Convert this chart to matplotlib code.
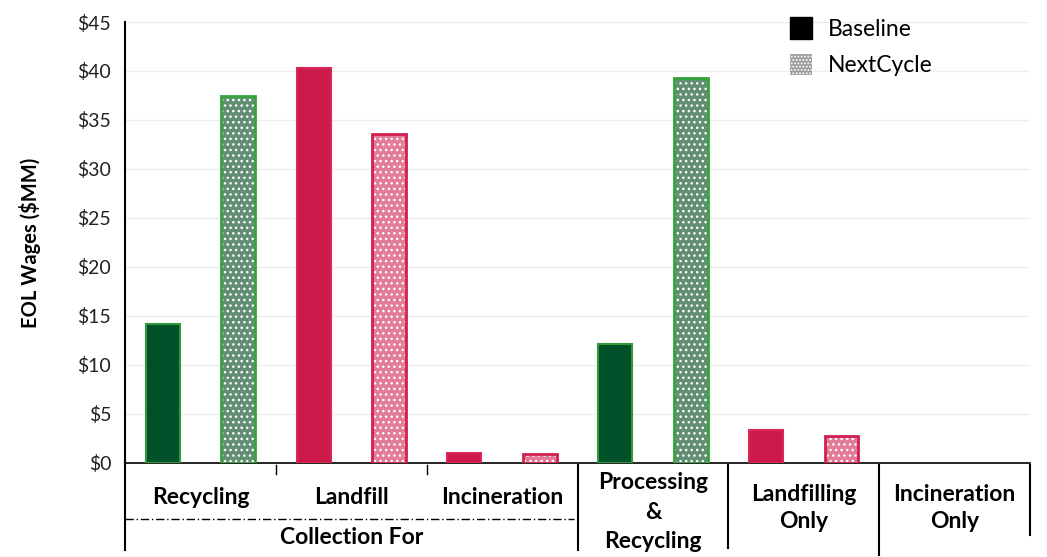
import numpy as np
import matplotlib
matplotlib.use('Agg')
import matplotlib.pyplot as plt
from matplotlib.patches import Patch

plt.rcParams['font.family'] = ['Lato', 'DejaVu Sans']
plt.rcParams['hatch.linewidth'] = 1.0

# EOL wages per pathway, $MM
groups = ['Recycling', 'Landfill', 'Incineration',
          'Processing\n&\nRecycling', 'Landfilling\nOnly', 'Incineration\nOnly']
baseline = [14.2, 40.3, 1.0, 12.1, 3.4, 0.0]
nextcycle = [37.4, 33.6, 0.9, 39.3, 2.8, 0.0]
recycling_path = [True, False, False, True, False, False]
y_ticks = [0, 5, 10, 15, 20, 25, 30, 35, 40, 45]

# colours: dark/light green for recycling, crimson/pink for disposal
base_fill = {True: '#00502a', False: '#cc1a4b'}
base_edge = {True: '#2e9a3a', False: '#d8285a'}
next_fill = {True: '#628f74', False: '#e27c98'}
next_edge = {True: '#36a23c', False: '#cf2050'}

fig = plt.figure(figsize=(10.47, 5.57), dpi=100)
ax = fig.add_axes([0.1194, 0.1688, 0.8644, 0.7917])

w = 0.45
for i in range(len(groups)):
    g = recycling_path[i]
    xb, xn = 2 * i, 2 * i + 1
    lw_b = 1.5 if baseline[i] > 0 else 0
    lw_n = 2 if nextcycle[i] > 0 else 0
    ax.bar(xb, baseline[i], width=w, color=base_fill[g], edgecolor=base_edge[g],
           linewidth=lw_b, zorder=3)
    # NextCycle bars: fill, white dot hatch, then outline
    ax.bar(xn, nextcycle[i], width=w, color=next_fill[g], linewidth=0, zorder=3)
    ax.bar(xn, nextcycle[i], width=w, facecolor='none', edgecolor='white',
           hatch='...', linewidth=0, zorder=4)
    ax.bar(xn, nextcycle[i], width=w, facecolor='none', edgecolor=next_edge[g],
           linewidth=lw_n, zorder=5)

ax.set_xlim(-0.5, 11.5)
ax.set_ylim(0, 45)
ax.set_yticks(y_ticks)
ax.set_yticklabels([f'${v}' for v in y_ticks], fontsize=14, color='#222222')
ax.tick_params(axis='y', length=0, pad=10)
ax.set_xticks([])
ax.grid(axis='y', color='#eeeeee', linewidth=1, zorder=0)
for s in ['top', 'right']:
    ax.spines[s].set_visible(False)
ax.spines['bottom'].set_linewidth(1.2)
ax.spines['left'].set_linewidth(1.5)
ax.set_ylabel('EOL Wages ($MM)', fontsize=14.5, fontweight='bold', labelpad=26)

# category area below the axis
tr = ax.get_xaxis_transform()
ax.plot([-0.5, -0.5], [0, -0.197], transform=tr, color='black', lw=1.5, clip_on=False)
for xd in [1.5, 3.5]:
    ax.plot([xd, xd], [-0.004, -0.025], transform=tr, color='black', lw=1, clip_on=False)
for xd, ylow in [(5.5, -0.197), (7.5, -0.193), (9.5, -0.208), (11.5, -0.163)]:
    ax.plot([xd, xd], [-0.004, ylow], transform=tr, color='black', lw=1.5, clip_on=False)
ax.plot([-0.5, 5.45], [-0.127, -0.127], transform=tr, color='black', lw=1,
        linestyle=(0, (6, 2, 1, 2)), clip_on=False)

label_y = [-0.079, -0.079, -0.079, -0.112, -0.102, -0.102]
spacing = [1.35, 1.35, 1.35, 1.5, 1.4, 1.4]
for i, name in enumerate(groups):
    ax.text(2 * i + 0.5, label_y[i], name, transform=tr, ha='center', va='center',
            fontsize=16.5, fontweight='bold', linespacing=spacing[i])
ax.text(2.5, -0.168, 'Collection For', transform=tr, ha='center', va='center',
        fontsize=16.5, fontweight='bold')

handles = [Patch(facecolor='black', edgecolor='black'),
           Patch(facecolor='#9a9a9a', edgecolor='white', hatch='.....', linewidth=0)]
ax.legend(handles, ['Baseline', 'NextCycle'], loc='upper left',
          bbox_to_anchor=(0.712, 1.057), frameon=False, fontsize=16.5,
          handlelength=0.95, handleheight=1.05, handletextpad=0.7, labelspacing=0.6)

fig.savefig('out.png', dpi=100)
